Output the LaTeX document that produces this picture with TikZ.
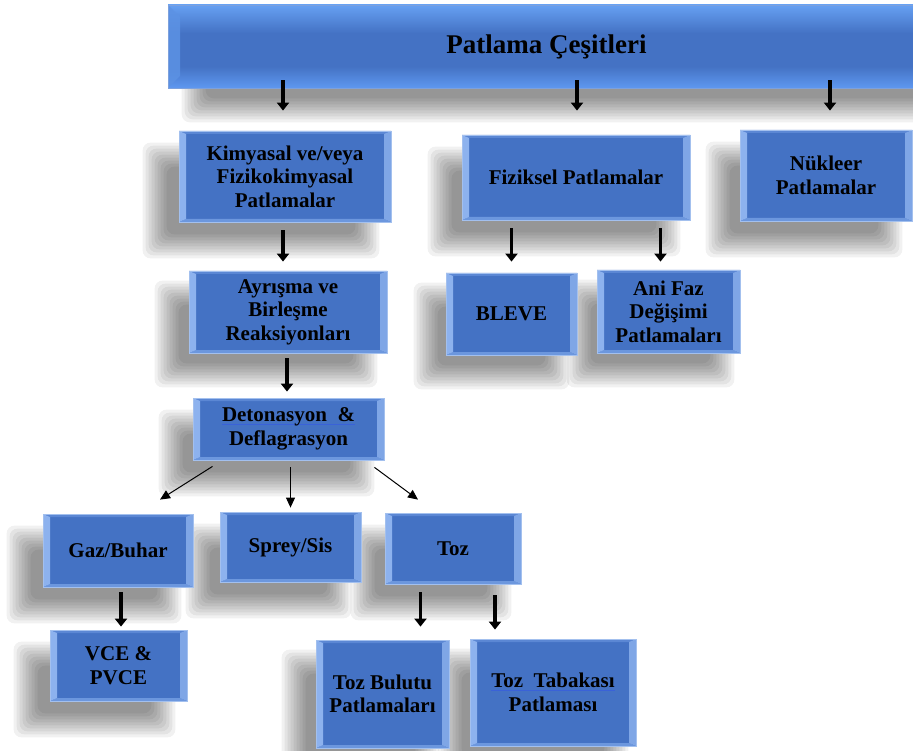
\documentclass[tikz,border=0pt]{standalone}
\usepackage{fontspec}
\setmainfont{Liberation Serif}
\usetikzlibrary{arrows.meta,calc,backgrounds}

\definecolor{boxblue}{HTML}{4472C4}
\definecolor{edgeblue}{HTML}{A3C0EE}
\definecolor{bevleft}{HTML}{8DB2EE}
\definecolor{bevright}{HTML}{7FA6E6}
\definecolor{bevtop}{HTML}{5B87D4}
\definecolor{bevbot}{HTML}{6C97DE}
\definecolor{bartop}{HTML}{66A0F2}
\definecolor{barbot}{HTML}{5E98F0}
\definecolor{ulblue}{HTML}{3A62D8}

% light band at top and bottom of the heading bar, plain blue between
\pgfdeclareverticalshading{barshade}{100bp}{%
  color(0bp)=(barbot); color(25bp)=(barbot); color(38bp)=(boxblue);
  color(58bp)=(boxblue); color(75bp)=(bartop); color(100bp)=(bartop)}

\newcommand\boxfont{\fontsize{21}{23.5}\selectfont\bfseries}
\newcommand\titlefont{\fontsize{27}{30}\selectfont\bfseries}
\newcommand\bluul[1]{\setbox0\hbox{#1}\rlap{\textcolor{ulblue}{\rule[-3pt]{\wd0}{0.9pt}}}\box0}

\tikzset{
  blk/.style={rectangle, draw=edgeblue, line width=0.8pt, fill=boxblue,
    inner sep=2pt, align=center, font=\boxfont, text=black,
    path picture={
      \fill[bevtop] (path picture bounding box.north west) -- (path picture bounding box.north east)
        -- ($(path picture bounding box.north east)+(-7,3)$) -- ($(path picture bounding box.north west)+(7,3)$) -- cycle;
      \fill[bevbot] (path picture bounding box.south west) -- (path picture bounding box.south east)
        -- ($(path picture bounding box.south east)+(-7,-3)$) -- ($(path picture bounding box.south west)+(7,-3)$) -- cycle;
      \fill[bevleft] (path picture bounding box.north west) -- ($(path picture bounding box.north west)+(7,3)$)
        -- ($(path picture bounding box.south west)+(7,-3)$) -- (path picture bounding box.south west) -- cycle;
      \fill[bevright] (path picture bounding box.north east) -- ($(path picture bounding box.north east)+(-7,3)$)
        -- ($(path picture bounding box.south east)+(-7,-3)$) -- (path picture bounding box.south east) -- cycle;
    }},
  titlebar/.style={rectangle, draw=edgeblue!60!boxblue, line width=0.6pt,
    shading=barshade, font=\titlefont, text=black,
    path picture={
      \fill[bartop!70!boxblue, opacity=0.85] (path picture bounding box.north west) -- ($(path picture bounding box.north west)+(12,12)$)
        -- ($(path picture bounding box.south west)+(12,-12)$) -- (path picture bounding box.south west) -- cycle;
    }},
  bigarrow/.style={line width=3.6pt, -{Triangle[width=12pt,length=8pt]}},
  thinarrow/.style={line width=1pt, -{Triangle[width=9pt,length=10pt]}},
}

\begin{document}
\begin{tikzpicture}[x=1pt,y=-1pt]
\clip (0,0) rectangle (913,751);

% boxes
\node[titlebar, minimum width=757pt, minimum height=83pt] (title) at (546.5,46.5) {Patlama Çeşitleri};

\node[blk, minimum width=212pt, minimum height=91pt] (kim) at (285,176.5) {Kimyasal ve/veya\\Fizikokimyasal\\Patlamalar};
\node[blk, minimum width=228pt, minimum height=85pt] (fiz) at (576,177.5) {Fiziksel Patlamalar};
\node[blk, minimum width=172pt, minimum height=91pt] (nuk) at (826,175.5) {Nükleer\\Patlamalar};

\node[blk, minimum width=198pt, minimum height=82pt] (ayr) at (288,312) {Ayrışma ve\\Birleşme\\Reaksiyonları};
\node[blk, minimum width=131pt, minimum height=82pt] (bleve) at (511.5,314) {BLEVE};
\node[blk, minimum width=143pt, minimum height=83pt] (ani) at (668.5,311.5) {Ani Faz\\Değişimi\\Patlamaları};

\node[blk, minimum width=191pt, minimum height=62pt] (det) at (288.5,429) {\bluul{Detonasyon \ \&}\\Deflagrasyon};

\node[blk, minimum width=150pt, minimum height=73pt] (gaz) at (118,550.5) {Gaz/Buhar};
\node[blk, minimum width=141pt, minimum height=70pt] (sprey) at (290.5,547) {Sprey/Sis};
\node[blk, minimum width=136pt, minimum height=71pt] (toz) at (453,548.5) {Toz};

\node[blk, minimum width=137pt, minimum height=71pt] (vce) at (118.5,665.5) {VCE \&\\PVCE};
\node[blk, minimum width=133pt, minimum height=108pt] (bulutu) at (382.5,694) {Toz Bulutu\\Patlamaları};
\node[blk, minimum width=166pt, minimum height=107pt] (tabaka) at (553,692.5) {\bluul{Toz \ Tabakası}\\Patlaması};

% soft shadows
\begin{pgfonlayer}{background}
  \fill[white] (0,0) rectangle (913,751);
  \foreach \n/\dx/\dy in {title/26/22, kim/-24/24, fiz/-22/24, nuk/-22/24, ayr/-22/22,
      bleve/-20/22, ani/-18/22, det/-22/24, gaz/-24/24, sprey/-22/24, toz/-22/24,
      vce/-24/24, bulutu/-22/22, tabaka/-20/22} {
    \foreach \s in {0,3,...,24} {
      \fill[black, opacity=0.055, rounded corners=8pt]
        ($(\n.north west)+(\dx+\s-12,\dy+\s-12)$) rectangle ($(\n.south east)+(\dx-\s+12,\dy-\s+12)$);
    }
  }
\end{pgfonlayer}

% connectors
\draw[bigarrow] ($(title.south -| kim.north)+(-2,-8)$) -- ($(kim.north)+(-2,-20)$);
\draw[bigarrow] ($(title.south -| fiz.north)+(1,-8)$) -- ($(fiz.north)+(1,-24)$);
\draw[bigarrow] ($(title.south -| nuk.north)+(4,-8)$) -- ($(nuk.north)+(4,-19)$);

\draw[bigarrow] ($(kim.south)+(-2,8)$) -- ($(kim.south |- ayr.north)+(-2,-9)$);
\draw[bigarrow] ($(fiz.south -| bleve.north)+(0,8)$) -- ($(bleve.north)+(0,-11)$);
\draw[bigarrow] ($(fiz.south -| ani.north)+(-8,8)$) -- ($(ani.north)+(-8,-8)$);
\draw[bigarrow] ($(ayr.south)+(-1,5)$) -- ($(ayr.south |- det.north)+(-1,-6)$);

\draw[thinarrow] ($(det.south)+(-76,6)$) -- ($(gaz.north)+(42,-14)$);
\draw[thinarrow] ($(det.south -| sprey.north)+(0,7)$) -- ($(sprey.north)+(0,-4)$);
\draw[thinarrow] ($(det.south)+(86,7)$) -- ($(toz.north)+(-35,-13)$);

\draw[bigarrow] ($(gaz.south)+(3,5)$) -- ($(gaz.south |- vce.north)+(3,-3)$);
\draw[bigarrow] ($(toz.south -| bulutu.north)+(38,8)$) -- ($(bulutu.north)+(38,-13)$);
\draw[bigarrow] ($(toz.south -| tabaka.north)+(-58,11)$) -- ($(tabaka.north)+(-58,-9)$);
\end{tikzpicture}
\end{document}
